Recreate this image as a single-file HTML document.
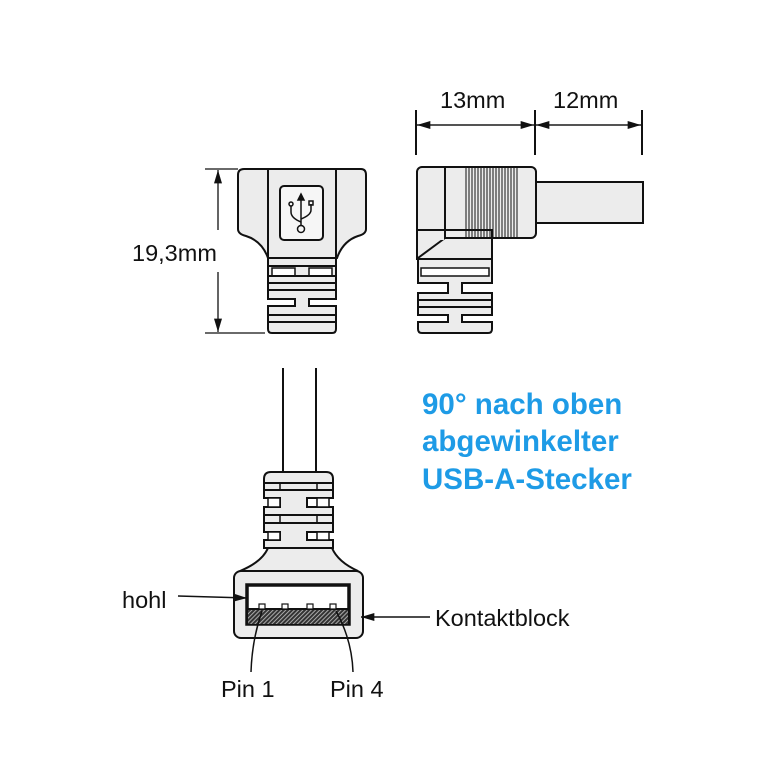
<!DOCTYPE html>
<html><head><meta charset="utf-8"><style>
body{margin:0;background:#fff}
svg{display:block}
text{font-family:"Liberation Sans",Arial,sans-serif;fill:#111}
</style></head><body>
<svg width="781" height="781" viewBox="0 0 781 781" xmlns="http://www.w3.org/2000/svg">
<defs>
<marker id="ar" viewBox="0 0 10 6" refX="10" refY="3" markerWidth="17" markerHeight="8" markerUnits="userSpaceOnUse" orient="auto">
<path d="M0,0 L10,3 L0,6 Z" fill="#111"/></marker>
<pattern id="hatch" width="3" height="3" patternUnits="userSpaceOnUse" patternTransform="rotate(45)">
<rect width="3" height="3" fill="#333"/><rect width="1" height="3" fill="#aaa"/></pattern>
</defs>
<g stroke="#111" stroke-width="2" fill="#ececec">

<line x1="416" y1="110" x2="416" y2="155"/>
<line x1="535" y1="110" x2="535" y2="155"/>
<line x1="642" y1="110" x2="642" y2="155"/>
<line x1="417" y1="125" x2="534" y2="125" stroke-width="1.3" marker-end="url(#ar)"/>
<line x1="534" y1="125" x2="417" y2="125" stroke-width="1.3" marker-end="url(#ar)"/>
<line x1="536" y1="125" x2="641" y2="125" stroke-width="1.3" marker-end="url(#ar)"/>
<line x1="641" y1="125" x2="536" y2="125" stroke-width="1.3" marker-end="url(#ar)"/>

<line x1="205" y1="169" x2="238" y2="169" stroke-width="1.3"/>
<line x1="205" y1="333" x2="265" y2="333" stroke-width="1.3"/>
<line x1="218" y1="230" x2="218" y2="170" stroke-width="1.3" marker-end="url(#ar)"/>
<line x1="218" y1="272" x2="218" y2="332" stroke-width="1.3" marker-end="url(#ar)"/>

<path d="M244,169 H361 Q366,169 366,175 V229 Q366,234 358,236 Q343,241 337,258 H268 Q262,241 246,236 Q238,234 238,229 V175 Q238,169 244,169 Z"/>
<line x1="268" y1="169" x2="268" y2="258"/>
<line x1="336" y1="169" x2="336" y2="258"/>
<rect x="280" y="186" width="43" height="54" rx="4" fill="#f6f6f6"/>
<g stroke-width="1.5" fill="none">
<line x1="301" y1="196" x2="301" y2="226"/>
<path d="M298,200 L301,194 L304,200 Z" fill="#111"/>
<path d="M291,206 V212 Q291,218 301,222"/>
<path d="M311,204 V210 Q311,215 301,219"/>
<circle cx="291" cy="204" r="2"/>
<rect x="309" y="201" width="4" height="4"/>
<circle cx="301" cy="229" r="3.5"/>
</g>
<rect x="268" y="258" width="68" height="9"/>
<path d="M268,266 H336 V299 H309 V306 H336 V329 Q336,333 332,333 H272 Q268,333 268,329 V306 H295 V299 H268 Z"/>
<rect x="272" y="268" width="23" height="8" fill="#fff" stroke-width="1.5"/>
<rect x="309" y="268" width="23" height="8" fill="#fff" stroke-width="1.5"/>
<line x1="268" y1="276" x2="336" y2="276"/>
<line x1="268" y1="283" x2="336" y2="283"/>
<line x1="268" y1="290" x2="336" y2="290"/>
<line x1="268" y1="315" x2="336" y2="315"/>
<line x1="268" y1="322" x2="336" y2="322"/>

<rect x="535" y="182" width="108" height="41"/>
<rect x="417" y="167" width="119" height="71" rx="5"/>
<rect x="417" y="230" width="75" height="29"/>
<line x1="445" y1="167" x2="445" y2="238"/>
<line x1="445" y1="238" x2="492" y2="238"/>
<path d="M418,258 L445,238" fill="none"/>
<rect x="418" y="232" width="26" height="8" stroke="none"/>
<g stroke-width="1">
<line x1="466" y1="168" x2="466" y2="237"/><line x1="469" y1="168" x2="469" y2="237"/><line x1="472" y1="168" x2="472" y2="237"/><line x1="475" y1="168" x2="475" y2="237"/><line x1="478" y1="168" x2="478" y2="237"/><line x1="481" y1="168" x2="481" y2="237"/><line x1="484" y1="168" x2="484" y2="237"/><line x1="487" y1="168" x2="487" y2="237"/><line x1="490" y1="168" x2="490" y2="237"/><line x1="493" y1="168" x2="493" y2="237"/><line x1="496" y1="168" x2="496" y2="237"/><line x1="499" y1="168" x2="499" y2="237"/><line x1="502" y1="168" x2="502" y2="237"/><line x1="505" y1="168" x2="505" y2="237"/><line x1="508" y1="168" x2="508" y2="237"/><line x1="511" y1="168" x2="511" y2="237"/><line x1="514" y1="168" x2="514" y2="237"/><line x1="517" y1="168" x2="517" y2="237"/>
</g>
<path d="M418,259 H492 V283 H462 V293 H492 V315 H462 V322 H492 V329 Q492,333 488,333 H422 Q418,333 418,329 V322 H448 V315 H418 V293 H448 V283 H418 Z"/>
<rect x="421" y="268" width="68" height="8" fill="#fff" stroke-width="1.5"/>
<line x1="418" y1="300" x2="492" y2="300"/>
<line x1="418" y1="307" x2="492" y2="307"/>

<line x1="283" y1="368" x2="283" y2="473"/>
<line x1="316" y1="368" x2="316" y2="473"/>
<path d="M268,548 Q262,562 240,571 H358 Q338,562 332,548 Z"/>
<path d="M264,479 Q264,472 271,472 H326 Q333,472 333,479 V498 H307 V507 H333 V532 H307 V540 H333 V548 H264 V540 H280 V532 H264 V507 H280 V498 H264 Z"/>
<line x1="264" y1="483" x2="333" y2="483"/>
<line x1="264" y1="490" x2="333" y2="490"/>
<line x1="264" y1="515" x2="333" y2="515"/>
<line x1="264" y1="523" x2="333" y2="523"/>
<g stroke-width="1.5">
<line x1="280" y1="483" x2="280" y2="490"/><line x1="317" y1="483" x2="317" y2="490"/>
<line x1="280" y1="515" x2="280" y2="523"/><line x1="317" y1="515" x2="317" y2="523"/>
<rect x="268" y="498" width="12" height="9" fill="#fff"/><rect x="317" y="498" width="12" height="9" fill="#fff"/>
<rect x="268" y="532" width="12" height="8" fill="#fff"/><rect x="317" y="532" width="12" height="8" fill="#fff"/>
</g>
<rect x="234" y="571" width="129" height="67" rx="7"/>
<rect x="247" y="585" width="102" height="39" fill="#fff" stroke-width="3.5"/>
<rect x="248" y="609" width="100" height="15" fill="url(#hatch)" stroke="none"/>
<line x1="247" y1="609" x2="349" y2="609" stroke-width="2"/>
<g stroke-width="1.2" fill="#fff">
<rect x="259" y="604" width="6" height="5"/><rect x="282" y="604" width="6" height="5"/><rect x="307" y="604" width="6" height="5"/><rect x="330" y="604" width="6" height="5"/>
</g>
<g fill="none" stroke-width="1.5">
<path d="M262,611 Q252,640 251,672"/>
<path d="M336,611 Q352,640 353,672"/>
</g>
<line x1="178" y1="596" x2="247" y2="598" stroke-width="1.5" marker-end="url(#ar)"/>
<line x1="430" y1="617" x2="361" y2="617" stroke-width="1.5" marker-end="url(#ar)"/>
</g>

<text x="440" y="108" font-size="23.5">13mm</text>
<text x="553" y="108" font-size="23.5">12mm</text>
<text x="132" y="261" font-size="23.5">19,3mm</text>
<text x="122" y="608" font-size="23.5">hohl</text>
<text x="435" y="626" font-size="23.5">Kontaktblock</text>
<text x="221" y="697" font-size="23.5">Pin 1</text>
<text x="330" y="697" font-size="23.5">Pin 4</text>
<g font-size="29.5" font-weight="bold">
<text x="422" y="414" style="fill:#1e9be6">90° nach oben</text>
<text x="422" y="451" style="fill:#1e9be6">abgewinkelter</text>
<text x="422" y="489" style="fill:#1e9be6">USB-A-Stecker</text>
</g>
</svg>
</body></html>
